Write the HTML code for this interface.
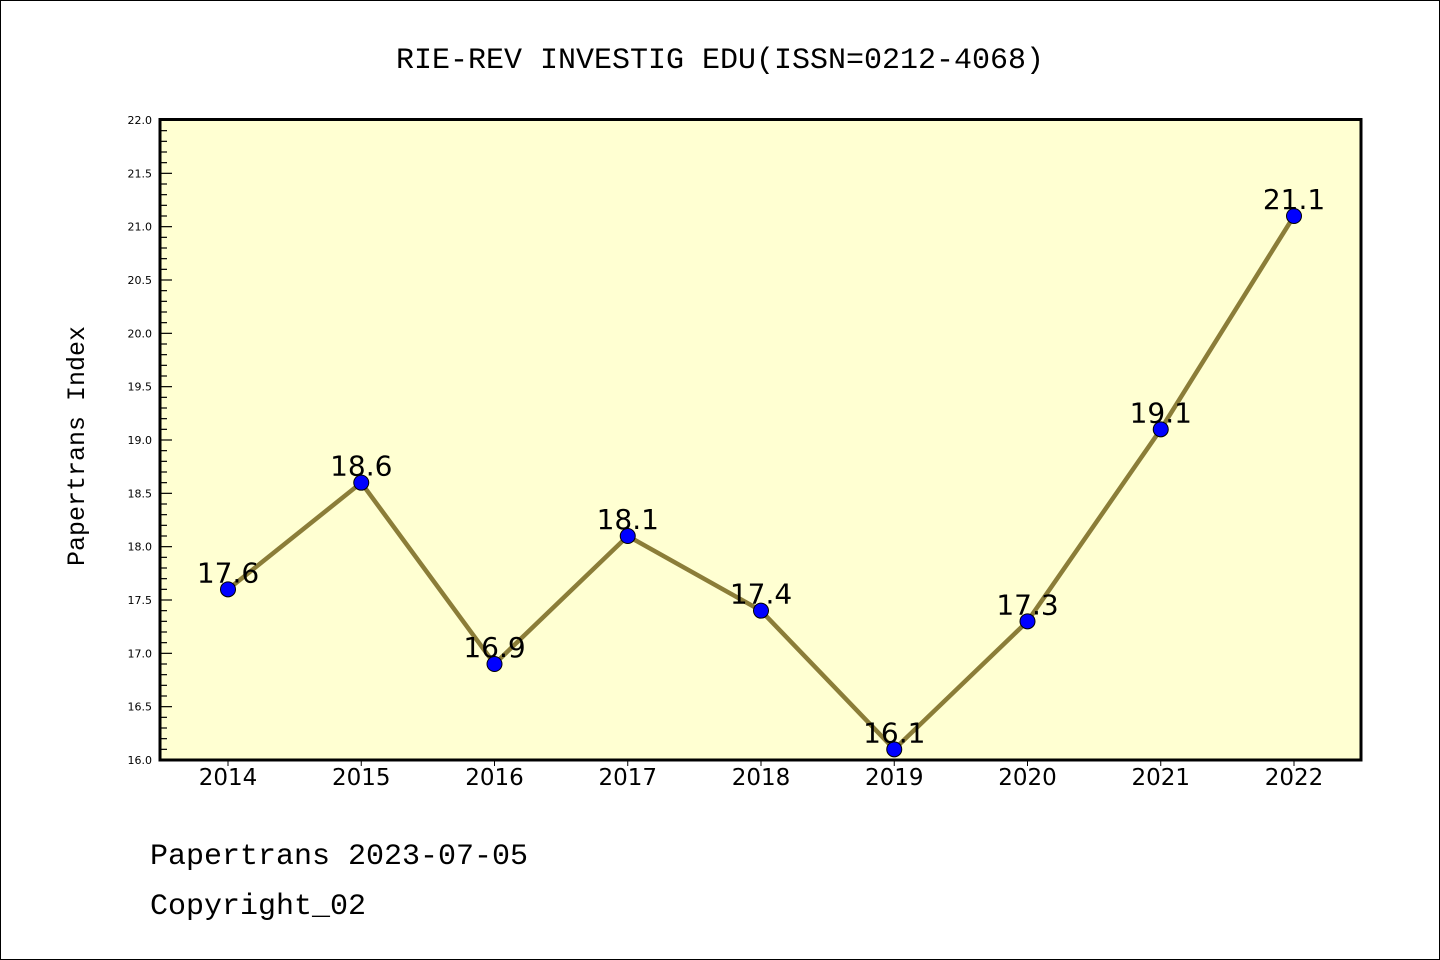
<!DOCTYPE html>
<html><head><meta charset="utf-8"><style>
html,body{margin:0;padding:0;background:#fff;}
svg{display:block;}
</style></head><body>
<svg id="chart" width="1440" height="960" xmlns="http://www.w3.org/2000/svg">
<rect x="0.5" y="0.5" width="1439" height="959" fill="#fff" stroke="#000"/>
<text x="720" y="68" text-anchor="middle" font-family="'WenQuanYi Zen Hei','Liberation Mono',monospace" font-size="30">RIE-REV INVESTIG EDU(ISSN=0212-4068)</text>
<rect x="160" y="119.5" width="1201" height="640.5" fill="#ffffd2"/>
<g id="axes"></g>
<g id="series"></g>
<rect x="160" y="119.5" width="1201" height="640.5" fill="none" stroke="#000" stroke-width="3"/>
<text transform="translate(84,446) rotate(-90)" text-anchor="middle" font-family="'WenQuanYi Zen Hei','Liberation Mono',monospace" font-size="25">Papertrans Index</text>
<text x="150" y="864" font-family="'WenQuanYi Zen Hei','Liberation Mono',monospace" font-size="30">Papertrans 2023-07-05</text>
<text x="150" y="914" font-family="'WenQuanYi Zen Hei','Liberation Mono',monospace" font-size="30">Copyright_02</text>
</svg>
<script>
const years = [2014,2015,2016,2017,2018,2019,2020,2021,2022];
const values = [17.6,18.6,16.9,18.1,17.4,16.1,17.3,19.1,21.1];
const valueLabels = ["17.6","18.6","16.9","18.1","17.4","16.1","17.3","19.1","21.1"];
const yTickLabels = ["16.0","16.5","17.0","17.5","18.0","18.5","19.0","19.5","20.0","20.5","21.0","21.5","22.0"];
const yMin = 16, yMax = 22;
const NS = "http://www.w3.org/2000/svg";
function xScale(i){ return 228 + i*(1294-228)/(years.length-1); }
function yScale(v){ return 760 - (v - yMin)/(yMax - yMin)*640; }
function mk(tag, attrs, parent){ const e=document.createElementNS(NS,tag); for(const k in attrs) e.setAttribute(k,attrs[k]); parent.appendChild(e); return e; }
const axes=document.getElementById('axes'), series=document.getElementById('series');
for(let k=0;k<=60;k++){
  const v=yMin+k*0.1, y=yScale(v), major=k%5===0;
  const t=mk('line',{x1:160,x2:major?172:167,y1:y,y2:y,stroke:'#000','stroke-width':1.2},axes);
  
  
}
yTickLabels.forEach(s=>{
  const t=mk('text',{x:152,y:yScale(parseFloat(s))+4,'text-anchor':'end','font-family':'DejaVu Sans, sans-serif','font-size':11},axes);
  t.textContent=s;
  
  
});
years.forEach((yr,i)=>{
  const x=xScale(i);
  const t=mk('line',{x1:x,x2:x,y1:760,y2:766,stroke:'#000','stroke-width':1},axes);
  
  
  const l=mk('text',{x:x,y:785,'text-anchor':'middle','font-family':'DejaVu Sans, sans-serif','font-size':23},axes);
  l.textContent=yr;
  
  
});
const line=mk('polyline',{points:values.map((v,i)=>xScale(i)+','+yScale(v)).join(' '),fill:'none',stroke:'#8b7d38','stroke-width':4.5},series);


values.forEach((v,i)=>{
  const c=mk('circle',{cx:xScale(i),cy:yScale(v),r:7.5,fill:'#0000ff',stroke:'#000','stroke-width':1},series);
  
  
  const t=mk('text',{x:xScale(i),y:yScale(v)-7,'text-anchor':'middle','font-family':'DejaVu Sans, sans-serif','font-size':28},series);
  t.textContent=valueLabels[i];
  
  
});
</script>
</body></html>
